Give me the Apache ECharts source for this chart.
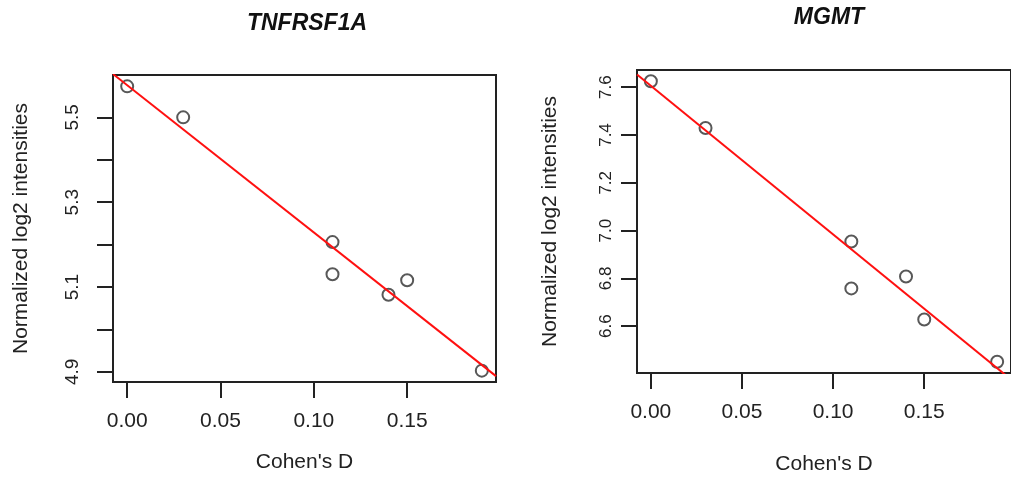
<!DOCTYPE html>
<html>
<head>
<meta charset="utf-8">
<script src="https://cdn.jsdelivr.net/npm/echarts@6/dist/echarts.min.js"></script>
<style>
  html, body { margin: 0; padding: 0; background: #fff; }
  #myChart { width: 1011px; height: 487px; }
</style>
</head>
<body>
<div id="myChart"></div>
<script>
// Cohen's D on x, same for both genes
const cohenD = [0.00, 0.03, 0.11, 0.11, 0.14, 0.15, 0.19]
const tnfValues = [5.573, 5.500, 5.206, 5.130, 5.082, 5.116, 4.903]
const mgmtValues = [7.625, 7.429, 6.954, 6.758, 6.808, 6.628, 6.451]

// fitted lines, ends read at the box edges
const fitX = [-0.0076, 0.1976]
const tnfFit = [5.602, 4.890]
const mgmtFit = [7.653, 6.377]

const xTicks = [0, 0.05, 0.10, 0.15]
const tnfTicks = [4.9, 5.0, 5.1, 5.2, 5.3, 5.4, 5.5]
const tnfLabels = [4.9, 5.1, 5.3, 5.5]
const mgmtTicks = [6.6, 6.8, 7.0, 7.2, 7.4, 7.6]

const font = 'Liberation Sans'
const ink = '#222'

const tickLen = 15
// with offset 0 the custom ticks were drawn inside the box, a small offset flips them out
const axisOffset = 1

// R style range: data range padded by 4%
function pad (arr) {
  let lo = Math.min.apply(null, arr)
  let hi = Math.max.apply(null, arr)
  let d = (hi - lo) * 0.04
  return [lo - d, hi + d]
}

function pairs (xs, ys) {
  return xs.map((x, i) => [x, ys[i]])
}

function xAxisFor (gridIndex, nameGap) {
  let r = pad(cohenD)
  return {
    type: 'value',
    gridIndex: gridIndex,
    position: 'bottom',
    offset: axisOffset,
    min: r[0],
    max: r[1],
    name: "Cohen's D",
    nameLocation: 'middle',
    nameGap: nameGap - axisOffset,
    nameTextStyle: { fontFamily: font, fontSize: 21, color: ink },
    axisLine: { show: false, onZero: false },
    splitLine: { show: false },
    axisTick: { show: true, length: tickLen, customValues: xTicks, lineStyle: { color: ink, width: 2 } },
    axisLabel: {
      customValues: xTicks,
      margin: 29 - axisOffset,
      fontFamily: font,
      fontSize: 21,
      color: ink,
      formatter: v => v.toFixed(2)
    }
  }
}

function yAxisFor (gridIndex, values, ticks, labels, fontSize, margin, nameGap) {
  let r = pad(values)
  return {
    type: 'value',
    gridIndex: gridIndex,
    position: 'left',
    offset: axisOffset,
    min: r[0],
    max: r[1],
    name: 'Normalized log2 intensities',
    nameLocation: 'middle',
    nameGap: nameGap - axisOffset,
    nameTextStyle: { fontFamily: font, fontSize: 21, color: ink },
    axisLine: { show: false, onZero: false },
    splitLine: { show: false },
    axisTick: { show: true, length: tickLen, customValues: ticks, lineStyle: { color: ink, width: 2 } },
    axisLabel: {
      customValues: labels,
      rotate: 90,
      margin: margin - axisOffset,
      fontFamily: font,
      fontSize: fontSize,
      color: ink,
      formatter: v => v.toFixed(1)
    }
  }
}

function pointSeries (idx, ys) {
  return {
    type: 'scatter',
    xAxisIndex: idx,
    yAxisIndex: idx,
    symbol: 'circle',
    symbolSize: 12,
    itemStyle: { color: 'rgba(255,255,255,0)', borderColor: '#2e2e2e', borderWidth: 2 },
    data: pairs(cohenD, ys),
    z: 2
  }
}

function fitSeries (idx, ys) {
  return {
    type: 'line',
    xAxisIndex: idx,
    yAxisIndex: idx,
    symbol: 'none',
    clip: true,
    lineStyle: { color: '#ff1010', width: 2 },
    data: pairs(fitX, ys),
    z: 3
  }
}

let myChart = echarts.init(document.getElementById('myChart'))
let option = {
  animation: false,
  backgroundColor: '#fff',
  grid: [
    { left: 113, top: 75, width: 383, height: 307, show: true, borderColor: ink, borderWidth: 2, backgroundColor: '#fff' },
    { left: 637, top: 70, width: 380, height: 303, show: true, borderColor: ink, borderWidth: 2, backgroundColor: '#fff' }
  ],
  graphic: [
    { type: 'text', x: 307, y: 24, style: { text: 'TNFRSF1A', fontFamily: font, fontSize: 23, fontStyle: 'italic', fontWeight: 'bold', fill: '#111', align: 'center', verticalAlign: 'middle' } },
    { type: 'text', x: 829, y: 18, style: { text: 'MGMT', fontFamily: font, fontSize: 23, fontStyle: 'italic', fontWeight: 'bold', fill: '#111', align: 'center', verticalAlign: 'middle' } }
  ],
  xAxis: [xAxisFor(0, 70), xAxisFor(1, 81)],
  yAxis: [
    yAxisFor(0, tnfValues, tnfTicks, tnfLabels, 19, 31, 81),
    yAxisFor(1, mgmtValues, mgmtTicks, mgmtTicks, 17, 22, 76)
  ],
  series: [
    pointSeries(0, tnfValues),
    fitSeries(0, tnfFit),
    pointSeries(1, mgmtValues),
    fitSeries(1, mgmtFit)
  ]
}
myChart.setOption(option, true)
</script>
</body>
</html>
